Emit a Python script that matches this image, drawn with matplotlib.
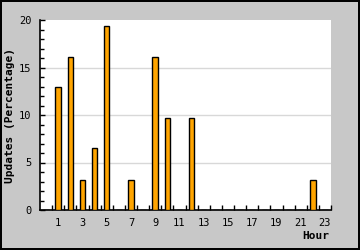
import numpy as np
import matplotlib.pyplot as plt
from matplotlib.ticker import MultipleLocator, FixedLocator

# updates per hour of day (percentage)
hours = list(range(24))
updates = [0, 12.9, 16.1, 3.2, 6.5, 19.4, 0, 3.2, 0, 16.1, 9.7, 0,
           9.7, 0, 0, 0, 0, 0, 0, 0, 0, 0, 3.2, 0]
hour_labels = [str(h) for h in range(1, 24, 2)]

plt.rcParams['font.family'] = ['DejaVu Sans Mono']

fig = plt.figure(figsize=(3.6, 2.5), dpi=100, facecolor='#c8c8c8',
                 edgecolor='black', linewidth=1.5)
ax = fig.add_axes([40/360, 40/250, 291/360, 190/250])
ax.set_facecolor('white')

ax.bar(hours, updates, width=0.45, color='#ffa500', edgecolor='black',
       linewidth=1, zorder=3)

ax.set_xlim(-0.5, 23.5)
ax.set_ylim(0, 20)

# grid
for g in [5, 10, 15]:
    ax.axhline(g, color='#d8d8d8', lw=1, zorder=1)

for s in ['top', 'right']:
    ax.spines[s].set_visible(False)
ax.spines['left'].set_linewidth(1.2)
ax.spines['bottom'].set_linewidth(1.2)

ax.xaxis.set_major_locator(FixedLocator(range(1, 24, 2)))
ax.set_xticklabels(hour_labels)
ax.xaxis.set_minor_locator(FixedLocator(np.arange(0.5, 23.6, 1)))
ax.tick_params(axis='x', which='major', length=0, pad=6, labelsize=7.5)
ax.tick_params(axis='x', which='minor', direction='in', length=3.5, width=1)

ax.yaxis.set_major_locator(MultipleLocator(5))
ax.yaxis.set_minor_locator(MultipleLocator(1))
ax.tick_params(axis='y', which='major', direction='in', length=3.5, width=1,
               pad=6, labelsize=7.5)
ax.tick_params(axis='y', which='minor', direction='in', length=3, width=1)

ax.set_ylabel('Updates (Percentage)', fontsize=8, fontweight='bold')
ax.yaxis.set_label_coords(-0.085, 0.495)
fig.text(329/360, 1 - 236/250, 'Hour', ha='right', va='center',
         fontsize=8, fontweight='bold')

fig.savefig('out.png', dpi=100, facecolor=fig.get_facecolor(),
            edgecolor=fig.get_edgecolor())
